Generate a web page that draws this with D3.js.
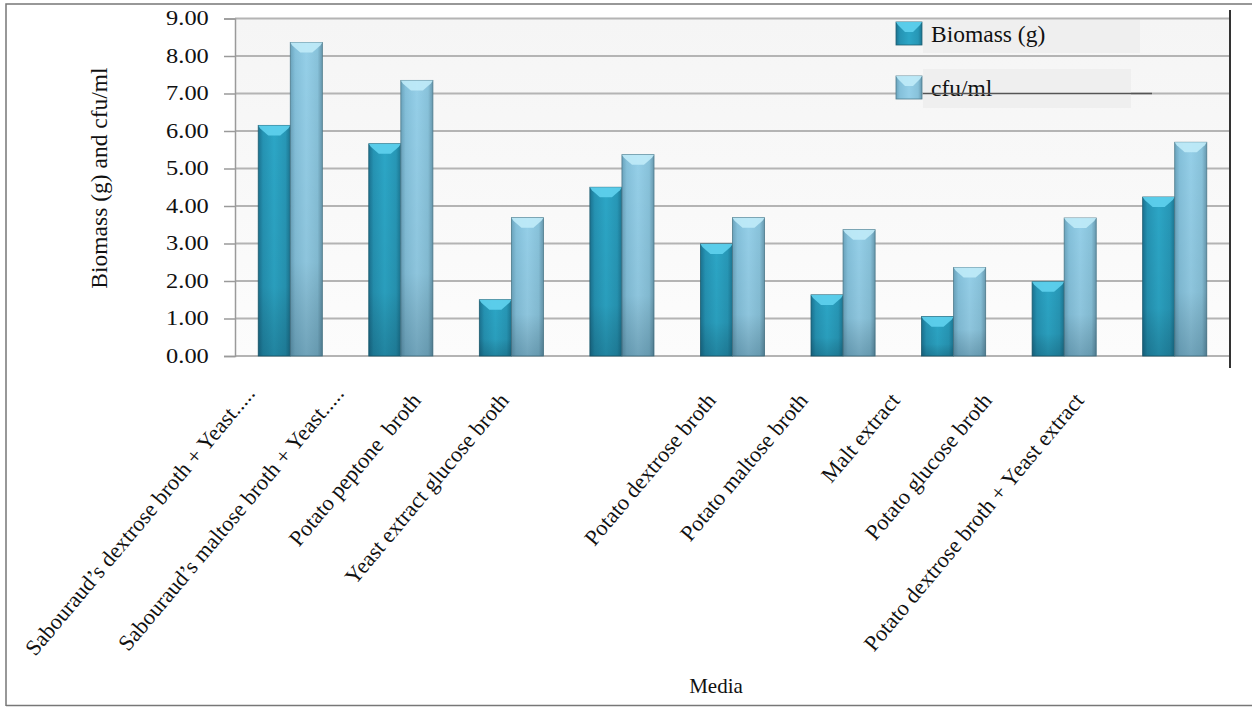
<!DOCTYPE html>
<html>
<head>
<meta charset="utf-8">
<script src="https://cdn.jsdelivr.net/npm/d3@7"></script>
<style>
  body { margin: 0; background: #fff; }
  text { font-family: "Liberation Serif", "Times New Roman", serif; fill: #111; }
</style>
</head>
<body>
<script>
var width = 1252,
    height = 708;

// data
var categories = [
  "Sabouraud\u2019s dextrose broth + Yeast.....",
  "Sabouraud\u2019s maltose broth + Yeast.....",
  "Potato peptone  broth",
  "Yeast extract glucose broth",
  "Potato dextrose broth",
  "Potato maltose broth",
  "Malt extract",
  "Potato glucose broth",
  "Potato dextrose broth + Yeast extract"
];
var seriesNames = ["Biomass (g)", "cfu/ml"];
var biomass = [6.15, 5.66, 1.50, 4.50, 2.99, 1.63, 1.05, 1.98, 4.24];
var cfu = [8.36, 7.35, 3.69, 5.37, 3.69, 3.37, 2.36, 3.68, 5.70];
var yTicks = [0, 1, 2, 3, 4, 5, 6, 7, 8, 9];

var seriesValues = [biomass, cfu];

var svg = d3.select("body")
  .append("svg")
  .attr("width", width)
  .attr("height", height);

var defs = svg.append("defs");

// bar shading, one per series
var shades = [
  { id: "g0", stops: ["#1b7290", "#2593b3", "#2ca6c6", "#2797b6", "#1c7591"], cap: "#5fd2ee", edge: "#1f5f72" },
  { id: "g1", stops: ["#6aa3bc", "#84c0da", "#95cfe8", "#88c2da", "#6798ae"], cap: "#c0ebf8", edge: "#4d7b8c" }
];
shades.forEach(function(s) {
  var g = defs.append("linearGradient").attr("id", s.id)
    .attr("x1", "0%").attr("x2", "100%").attr("y1", "0%").attr("y2", "0%");
  [0, 15, 50, 85, 100].forEach(function(o, i) {
    g.append("stop").attr("offset", o + "%").attr("stop-color", s.stops[i]);
  });
});
var shadeV = defs.append("linearGradient").attr("id", "shadeV")
  .attr("x1", "0%").attr("x2", "0%").attr("y1", "0%").attr("y2", "100%");
shadeV.append("stop").attr("offset", "0%").attr("stop-color", "#000").attr("stop-opacity", 0);
shadeV.append("stop").attr("offset", "70%").attr("stop-color", "#000").attr("stop-opacity", 0.05);
shadeV.append("stop").attr("offset", "100%").attr("stop-color", "#002030").attr("stop-opacity", 0.25);

var bgGrad = defs.append("linearGradient").attr("id", "bg")
  .attr("x1", "0%").attr("x2", "0%").attr("y1", "0%").attr("y2", "100%");
bgGrad.append("stop").attr("offset", "0%").attr("stop-color", "#f5f5f5");
bgGrad.append("stop").attr("offset", "100%").attr("stop-color", "#fcfcfc");

// scales
var x = d3.scaleBand()
  .domain(categories)
  .range([235, 1230])
  .paddingInner(0.42)
  .paddingOuter(0.21);

var xs = d3.scaleBand()
  .domain(seriesNames)
  .range([0, x.bandwidth()]);

var y = d3.scaleLinear()
  .domain([0, 9])
  .range([356, 18.5]);

// label anchors (labels in the picture don't sit exactly under the bars)
var labelX = d3.scaleLinear()
  .domain([0, 1, 2, 3, 4, 8])
  .range([256, 345, 422, 510, 717, 1085]);
var labelY = d3.scaleThreshold()
  .domain([2])
  .range([394, 401]);

// outer frame
svg.append("path")
  .attr("d", "M6,706V4H1252")
  .attr("fill", "none")
  .attr("stroke", "#777")
  .attr("stroke-width", 1.5);
svg.append("line")
  .attr("x1", 6).attr("x2", 1252)
  .attr("y1", 705.5).attr("y2", 705.5)
  .attr("stroke", "#777")
  .attr("stroke-width", 1.5);

// plot background
svg.append("rect")
  .attr("x", 235)
  .attr("y", y(9))
  .attr("width", 994)
  .attr("height", y(0) - y(9))
  .attr("fill", "url(#bg)");

// gridlines
svg.append("g")
  .selectAll("line")
  .data(yTicks)
  .enter()
  .append("line")
  .attr("x1", 235)
  .attr("x2", 1229)
  .attr("y1", function(d) { return y(d); })
  .attr("y2", function(d) { return y(d); })
  .attr("stroke", "#b4b4b4")
  .attr("stroke-width", 2);

// y axis
var yAxis = svg.append("g")
  .attr("transform", "translate(235,0)")
  .call(d3.axisLeft(y)
    .tickValues(yTicks)
    .tickFormat(d3.format(".2f"))
    .tickSize(11)
    .tickPadding(10));

yAxis.select(".domain").attr("stroke", "#9a9a9a").attr("stroke-width", 1.5);
yAxis.selectAll(".tick line").attr("stroke", "#9a9a9a").attr("stroke-width", 1.5);
yAxis.selectAll(".tick text")
  .attr("font-family", "Liberation Serif")
  .attr("font-size", 20)
  .attr("fill", "#111")
  .attr("x", -21.5)
  .attr("transform", "scale(1.22,1)");

// bars
var groups = svg.selectAll("g.grp")
  .data(categories)
  .enter()
  .append("g")
  .attr("class", "grp")
  .attr("transform", function(d) { return "translate(" + x(d) + ",0)"; });

seriesNames.forEach(function(s, si) {
  var w = xs.bandwidth();
  var bar = groups.append("g")
    .attr("transform", "translate(" + xs(s) + ",0)");

  bar.append("rect")
    .attr("x", 0)
    .attr("y", function(d, i) { return y(seriesValues[si][i]); })
    .attr("width", w)
    .attr("height", function(d, i) { return y(0) - y(seriesValues[si][i]); })
    .attr("fill", "url(#" + shades[si].id + ")")
    .attr("stroke", shades[si].edge)
    .attr("stroke-width", 0.8);

  bar.append("rect")
    .attr("x", 0)
    .attr("y", function(d, i) { return y(seriesValues[si][i]); })
    .attr("width", w)
    .attr("height", function(d, i) { return y(0) - y(seriesValues[si][i]); })
    .attr("fill", "url(#shadeV)");

  // bevelled cap
  bar.append("path")
    .attr("d", function(d, i) {
      var t = y(seriesValues[si][i]);
      return "M0," + t + "H" + w + "L" + (w - 2) + "," + (t + 3) +
        "L" + (w / 2 + 6) + "," + (t + 10) + "H" + (w / 2 - 6) +
        "L2," + (t + 3) + "Z";
    })
    .attr("fill", shades[si].cap)
    .attr("opacity", 0.9);
});

// right-hand line
svg.append("line")
  .attr("x1", 1230).attr("x2", 1230)
  .attr("y1", 10).attr("y2", 368)
  .attr("stroke", "#333")
  .attr("stroke-width", 2);

// category labels
svg.append("g")
  .selectAll("text")
  .data(categories)
  .enter()
  .append("text")
  .attr("transform", function(d, i) {
    return "translate(" + labelX(i) + "," + labelY(i) + ") rotate(-50)";
  })
  .attr("text-anchor", "end")
  .attr("font-size", 22.3)
  .style("white-space", "pre")
  .text(function(d) { return d; });

// axis titles
svg.append("text")
  .attr("transform", "translate(107,178) rotate(-90)")
  .attr("text-anchor", "middle")
  .attr("font-size", 23.5)
  .text("Biomass (g) and cfu/ml");

svg.append("text")
  .attr("x", 716)
  .attr("y", 693)
  .attr("text-anchor", "middle")
  .attr("font-size", 21)
  .text("Media");

// legend
var legend = svg.selectAll(".legend")
  .data(seriesNames)
  .enter()
  .append("g")
  .attr("class", "legend")
  .attr("transform", function(d, i) { return "translate(896," + (22 + i * 54) + ")"; });

legend.append("rect")
  .attr("x", 27)
  .attr("y", function(d, i) { return i === 0 ? -2 : -7; })
  .attr("width", function(d, i) { return i === 0 ? 217 : 208; })
  .attr("height", function(d, i) { return i === 0 ? 33 : 39; })
  .attr("fill", "#efefef");

legend.append("rect")
  .attr("width", 26)
  .attr("height", 23)
  .attr("fill", function(d, i) { return "url(#" + shades[i].id + ")"; })
  .attr("stroke", function(d, i) { return shades[i].edge; })
  .attr("stroke-width", 0.8);

legend.append("path")
  .attr("d", "M0,0H26L24,3L17,10H9L2,3Z")
  .attr("fill", function(d, i) { return shades[i].cap; })
  .attr("opacity", 0.9);

legend.append("text")
  .attr("x", 35)
  .attr("y", 19.5)
  .attr("font-size", 23.5)
  .text(function(d) { return d; });

// stray rule across the cfu/ml entry
svg.append("line")
  .attr("x1", 923).attr("x2", 1152)
  .attr("y1", 93.5).attr("y2", 93.5)
  .attr("stroke", "#555")
  .attr("stroke-width", 1.5);
</script>
</body>
</html>
